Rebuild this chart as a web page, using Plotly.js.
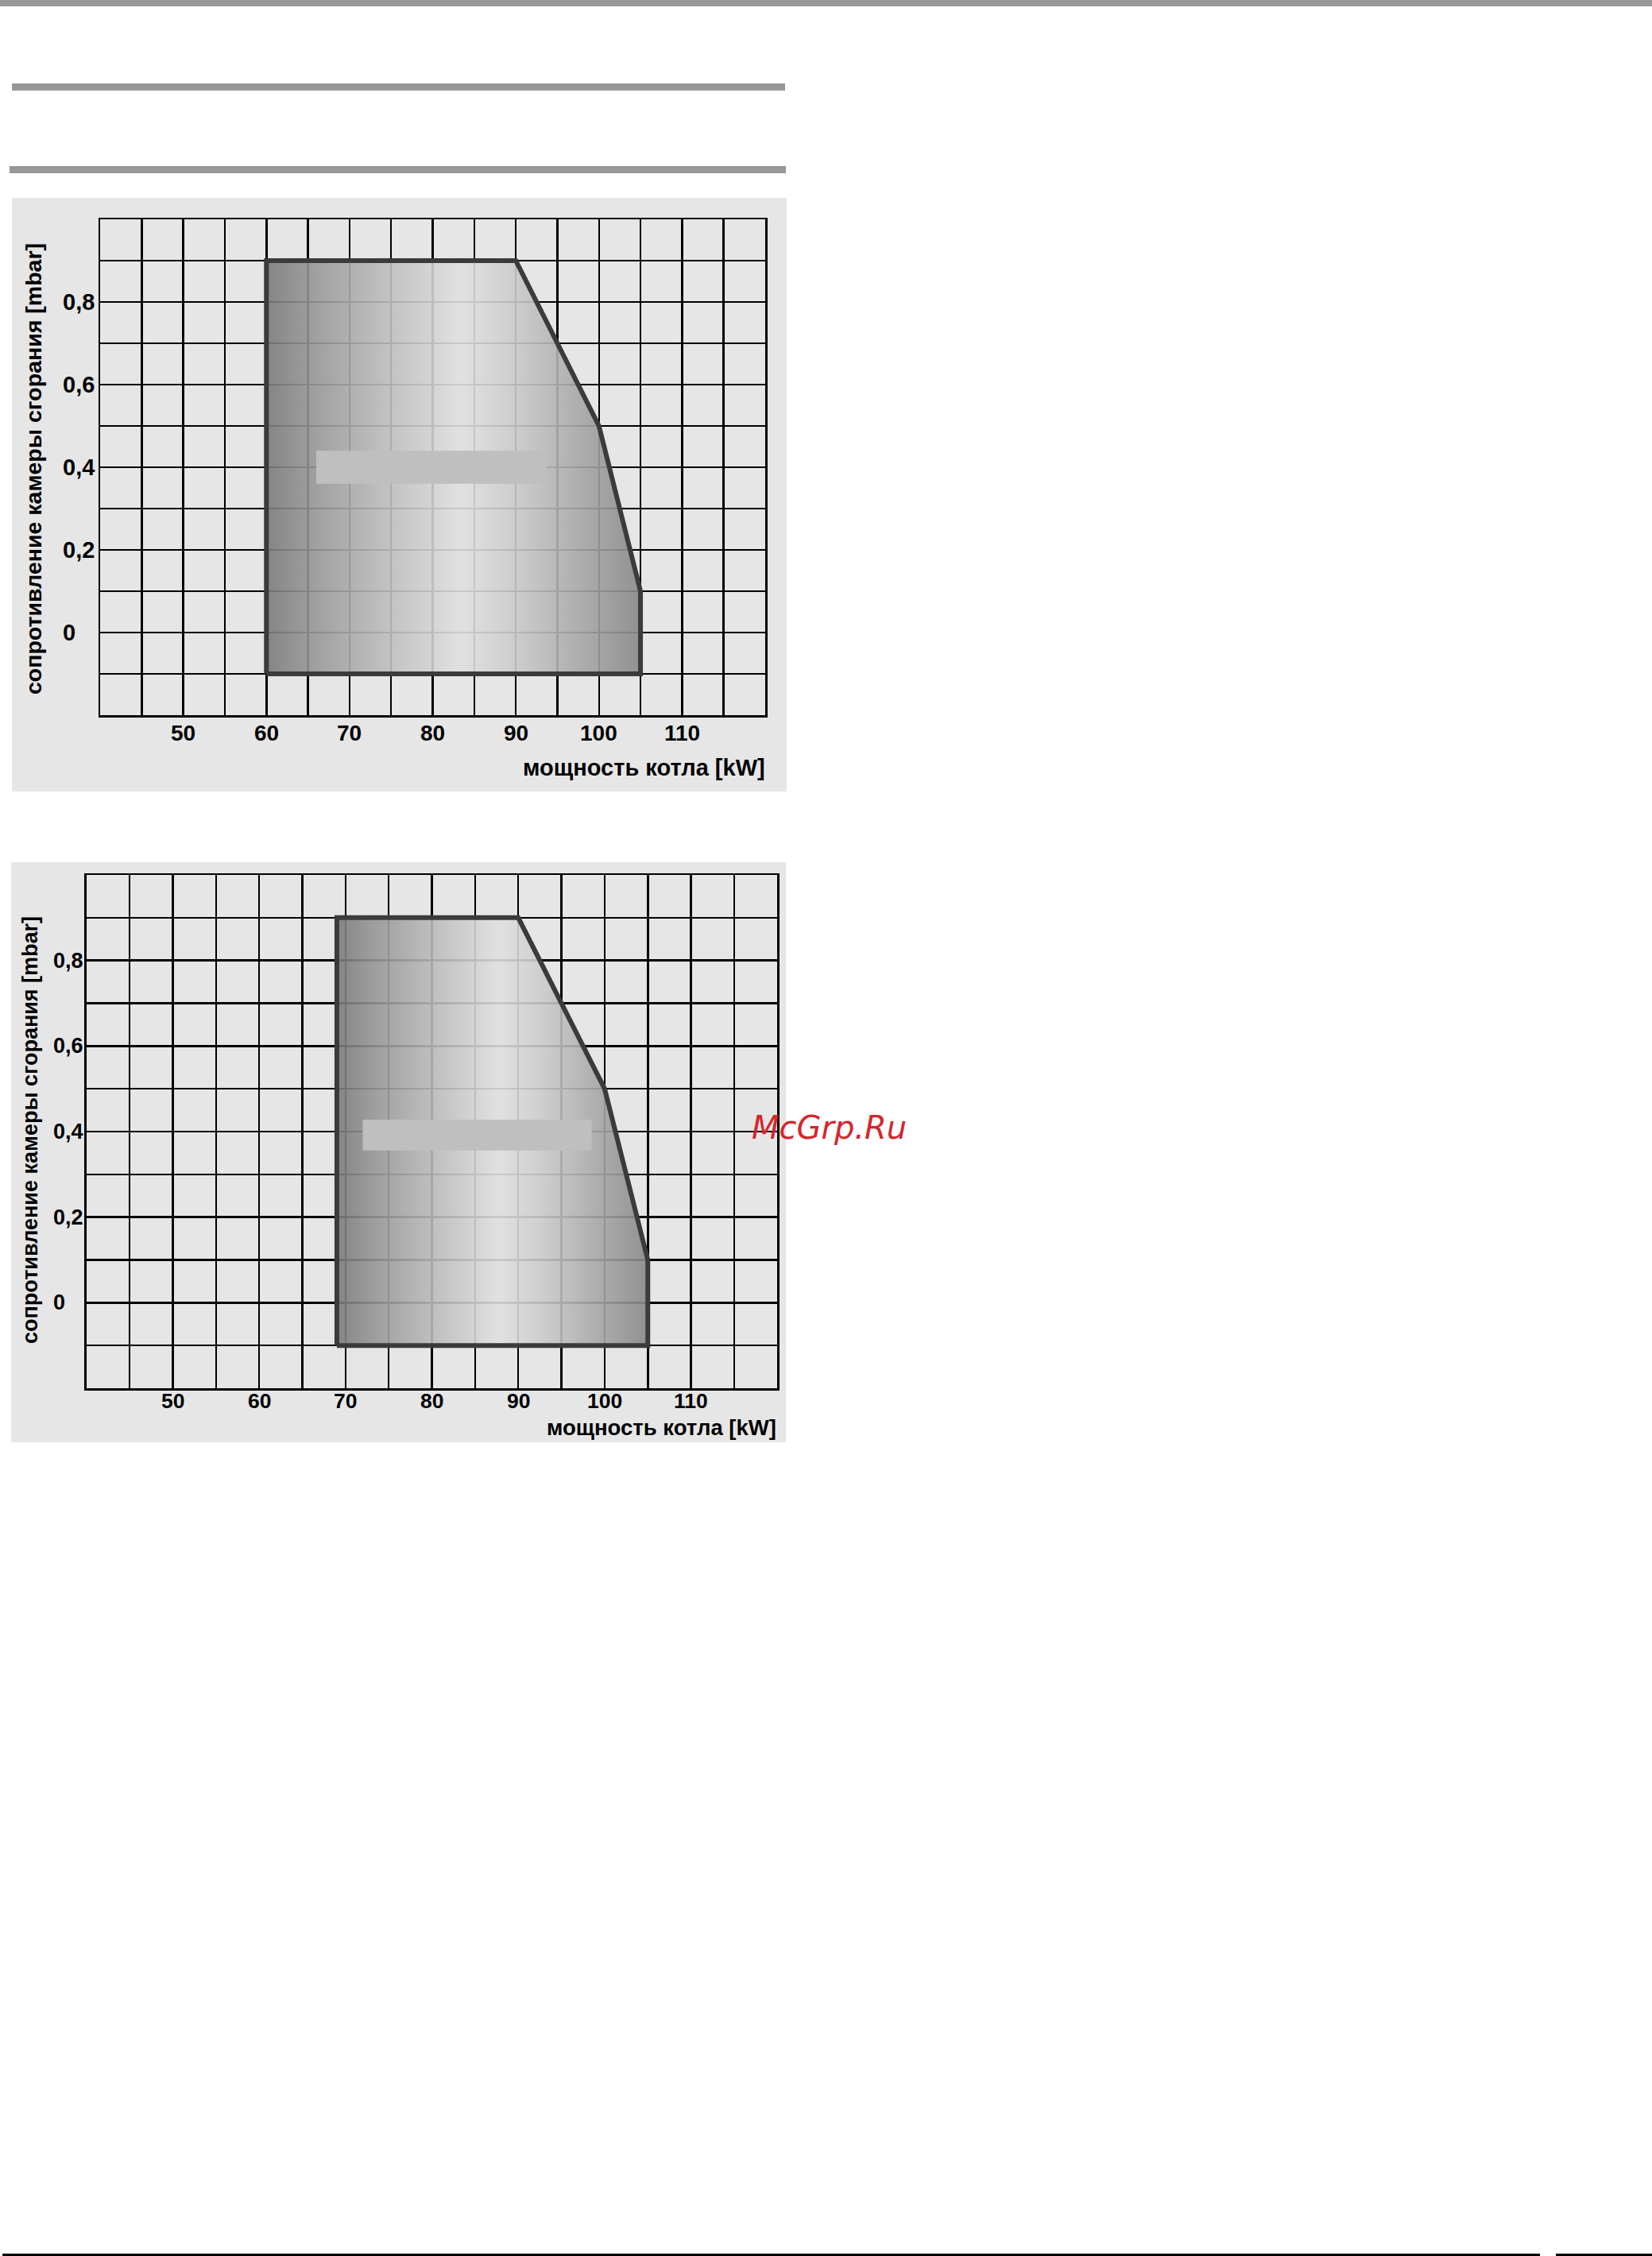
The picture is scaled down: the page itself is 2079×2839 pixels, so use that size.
<!DOCTYPE html>
<html><head><meta charset="utf-8">
<script src="https://cdn.plot.ly/plotly-3.0.1.min.js"></script>
<style>html,body{margin:0;padding:0;background:#fff}</style>
</head><body><div id="chart" style="width:2079px;height:2839px"></div>
<script>
// ---- data ----
const xRange = [40, 120];
const yRange = [-0.2, 1.0];
const xTickVals = [50, 60, 70, 80, 90, 100, 110];
const xTickText = ['50', '60', '70', '80', '90', '100', '110'];
const yTickVals = [0, 0.2, 0.4, 0.6, 0.8];
const yTickText = ['0', '0,2', '0,4', '0,6', '0,8'];
const area1X = [60, 60, 90, 100, 105, 105, 60];
const area1Y = [-0.1, 0.9, 0.9, 0.5, 0.1, -0.1, -0.1];
const area2X = [69, 69, 90, 100, 105, 105, 69];
const area2Y = [-0.1, 0.9, 0.9, 0.5, 0.1, -0.1, -0.1];
const box1X = [66, 93.7];
const box1Y = [0.36, 0.44];
const box2X = [72, 98.5];
const box2Y = [0.356, 0.428];
const xTitleText = 'мощность котла [kW]';
const yTitleText = 'сопротивление камеры сгорания [mbar]';
const watermark = 'McGrp.Ru';

// ---- layout helpers ----
const W = 2079, H = 2839;
const PX = v => v / W;
const PY = v => 1 - v / H;
const FONT = 'Liberation Sans, Arial, Helvetica, sans-serif';

const gradScale = [
  [0.00, 'rgba(122,122,122,0.9)'],
  [0.12, 'rgba(150,150,150,0.9)'],
  [0.30, 'rgba(185,185,185,0.9)'],
  [0.52, 'rgba(224,224,224,0.9)'],
  [0.65, 'rgba(205,205,205,0.9)'],
  [0.85, 'rgba(165,165,165,0.9)'],
  [1.00, 'rgba(136,136,136,0.9)']
];

function areaTrace(xs, ys, xa, ya) {
  return {
    type: 'scatter', mode: 'lines', x: xs, y: ys, xaxis: xa, yaxis: ya,
    fill: 'toself',
    fillgradient: {type: 'horizontal', colorscale: gradScale},
    line: {color: '#3b3b3b', width: 6},
    hoverinfo: 'skip', showlegend: false
  };
}

function xAxis(domain, anchor) {
  return {
    domain: domain, anchor: anchor, range: xRange,
    tickmode: 'array', tickvals: xTickVals, ticktext: xTickText,
    showticklabels: false, ticks: '',
    showgrid: true, gridcolor: '#000', gridwidth: 2.5,
    minor: {tick0: 40, dtick: 5, showgrid: true, gridcolor: '#000', gridwidth: 2.5, ticks: ''},
    showline: true, linecolor: '#000', linewidth: 2.5, mirror: true,
    zeroline: false, fixedrange: true
  };
}
function yAxis(domain, anchor) {
  return {
    domain: domain, anchor: anchor, range: yRange,
    tickmode: 'linear', tick0: -0.2, dtick: 0.1,
    showticklabels: false, ticks: '',
    showgrid: true, gridcolor: '#000', gridwidth: 2.5,
    showline: true, linecolor: '#000', linewidth: 2.5, mirror: true,
    zeroline: false, fixedrange: true
  };
}

const traces = [
  areaTrace(area1X, area1Y, 'x', 'y'),
  areaTrace(area2X, area2Y, 'x2', 'y2')
];

const rect = (x0, y0, x1, y1, color, layer) => ({
  type: 'rect', xref: 'paper', yref: 'paper',
  x0: PX(x0), x1: PX(x1), y0: PY(y1), y1: PY(y0),
  fillcolor: color, line: {width: 0}, layer: layer || 'below'
});

const shapes = [
  rect(0, 0, W, 8, '#999999'),
  rect(15, 105, 988, 114, '#979797'),
  rect(12, 209, 989, 218, '#979797'),
  rect(15, 249, 990, 996, '#e6e6e6'),
  rect(14, 1085, 989, 1815, '#e6e6e6'),
  rect(3, 2836, 1938, 2839, '#000000'),
  rect(1958, 2836, W, 2839, '#000000'),
  {type: 'rect', xref: 'x', yref: 'y', x0: box1X[0], x1: box1X[1], y0: box1Y[0], y1: box1Y[1],
   fillcolor: '#bfbfbf', line: {width: 0}, layer: 'above'},
  {type: 'rect', xref: 'x2', yref: 'y2', x0: box2X[0], x1: box2X[1], y0: box2Y[0], y1: box2Y[1],
   fillcolor: '#bfbfbf', line: {width: 0}, layer: 'above'}
];

const annotations = [];
function yLabels(yref, xLeft, size) {
  yTickVals.forEach((v, i) => annotations.push({
    xref: 'paper', yref: yref, x: PX(xLeft), y: v, xanchor: 'left', yanchor: 'middle',
    text: '<b>' + yTickText[i] + '</b>', showarrow: false, borderpad: 0,
    font: {family: FONT, size: size, color: '#000'}
  }));
}
function xLabels(xref, yCenter, size) {
  xTickVals.forEach((v, i) => annotations.push({
    xref: xref, yref: 'paper', x: v, y: PY(yCenter), xanchor: 'center', yanchor: 'middle',
    text: '<b>' + xTickText[i] + '</b>', showarrow: false, borderpad: 0,
    font: {family: FONT, size: size, color: '#000'}
  }));
}
yLabels('y', 78, 29);
yLabels('y2', 66, 27);
xLabels('x', 922, 28);
xLabels('x2', 1763, 26.5);

annotations.push(
  {xref: 'paper', yref: 'paper', x: PX(964), y: PY(966), xanchor: 'right', yanchor: 'middle',
   text: '<b>' + xTitleText + '</b>', showarrow: false, borderpad: 0,
   font: {family: FONT, size: 29, color: '#000'}},
  {xref: 'paper', yref: 'paper', x: PX(978), y: PY(1796), xanchor: 'right', yanchor: 'middle',
   text: '<b>' + xTitleText + '</b>', showarrow: false, borderpad: 0,
   font: {family: FONT, size: 27.5, color: '#000'}},
  {xref: 'paper', yref: 'paper', x: PX(42), y: PY(590), xanchor: 'center', yanchor: 'middle',
   textangle: -90, text: '<b>' + yTitleText + '</b>', showarrow: false, borderpad: 0,
   font: {family: FONT, size: 28.5, color: '#000'}},
  {xref: 'paper', yref: 'paper', x: PX(38), y: PY(1422), xanchor: 'center', yanchor: 'middle',
   textangle: -90, text: '<b>' + yTitleText + '</b>', showarrow: false, borderpad: 0,
   font: {family: FONT, size: 27, color: '#000'}},
  {xref: 'paper', yref: 'paper', x: PX(945), y: PY(1419), xanchor: 'left', yanchor: 'middle',
   text: '<i>' + watermark + '</i>', showarrow: false, borderpad: 0,
   font: {family: 'DejaVu Sans, sans-serif', size: 40, color: '#d4262b'}}
);

const layout = {
  width: W, height: H,
  margin: {l: 0, r: 0, t: 0, b: 0, pad: 0},
  paper_bgcolor: '#ffffff', plot_bgcolor: '#e6e6e6',
  showlegend: false,
  xaxis: xAxis([PX(126), PX(963)], 'y'),
  yaxis: yAxis([PY(900), PY(276)], 'x'),
  xaxis2: xAxis([PX(108.7), PX(978.3)], 'y2'),
  yaxis2: yAxis([PY(1747), PY(1101)], 'x2'),
  shapes: shapes,
  annotations: annotations
};

Plotly.newPlot('chart', traces, layout, {staticPlot: true, displayModeBar: false});
</script>
</body></html>
